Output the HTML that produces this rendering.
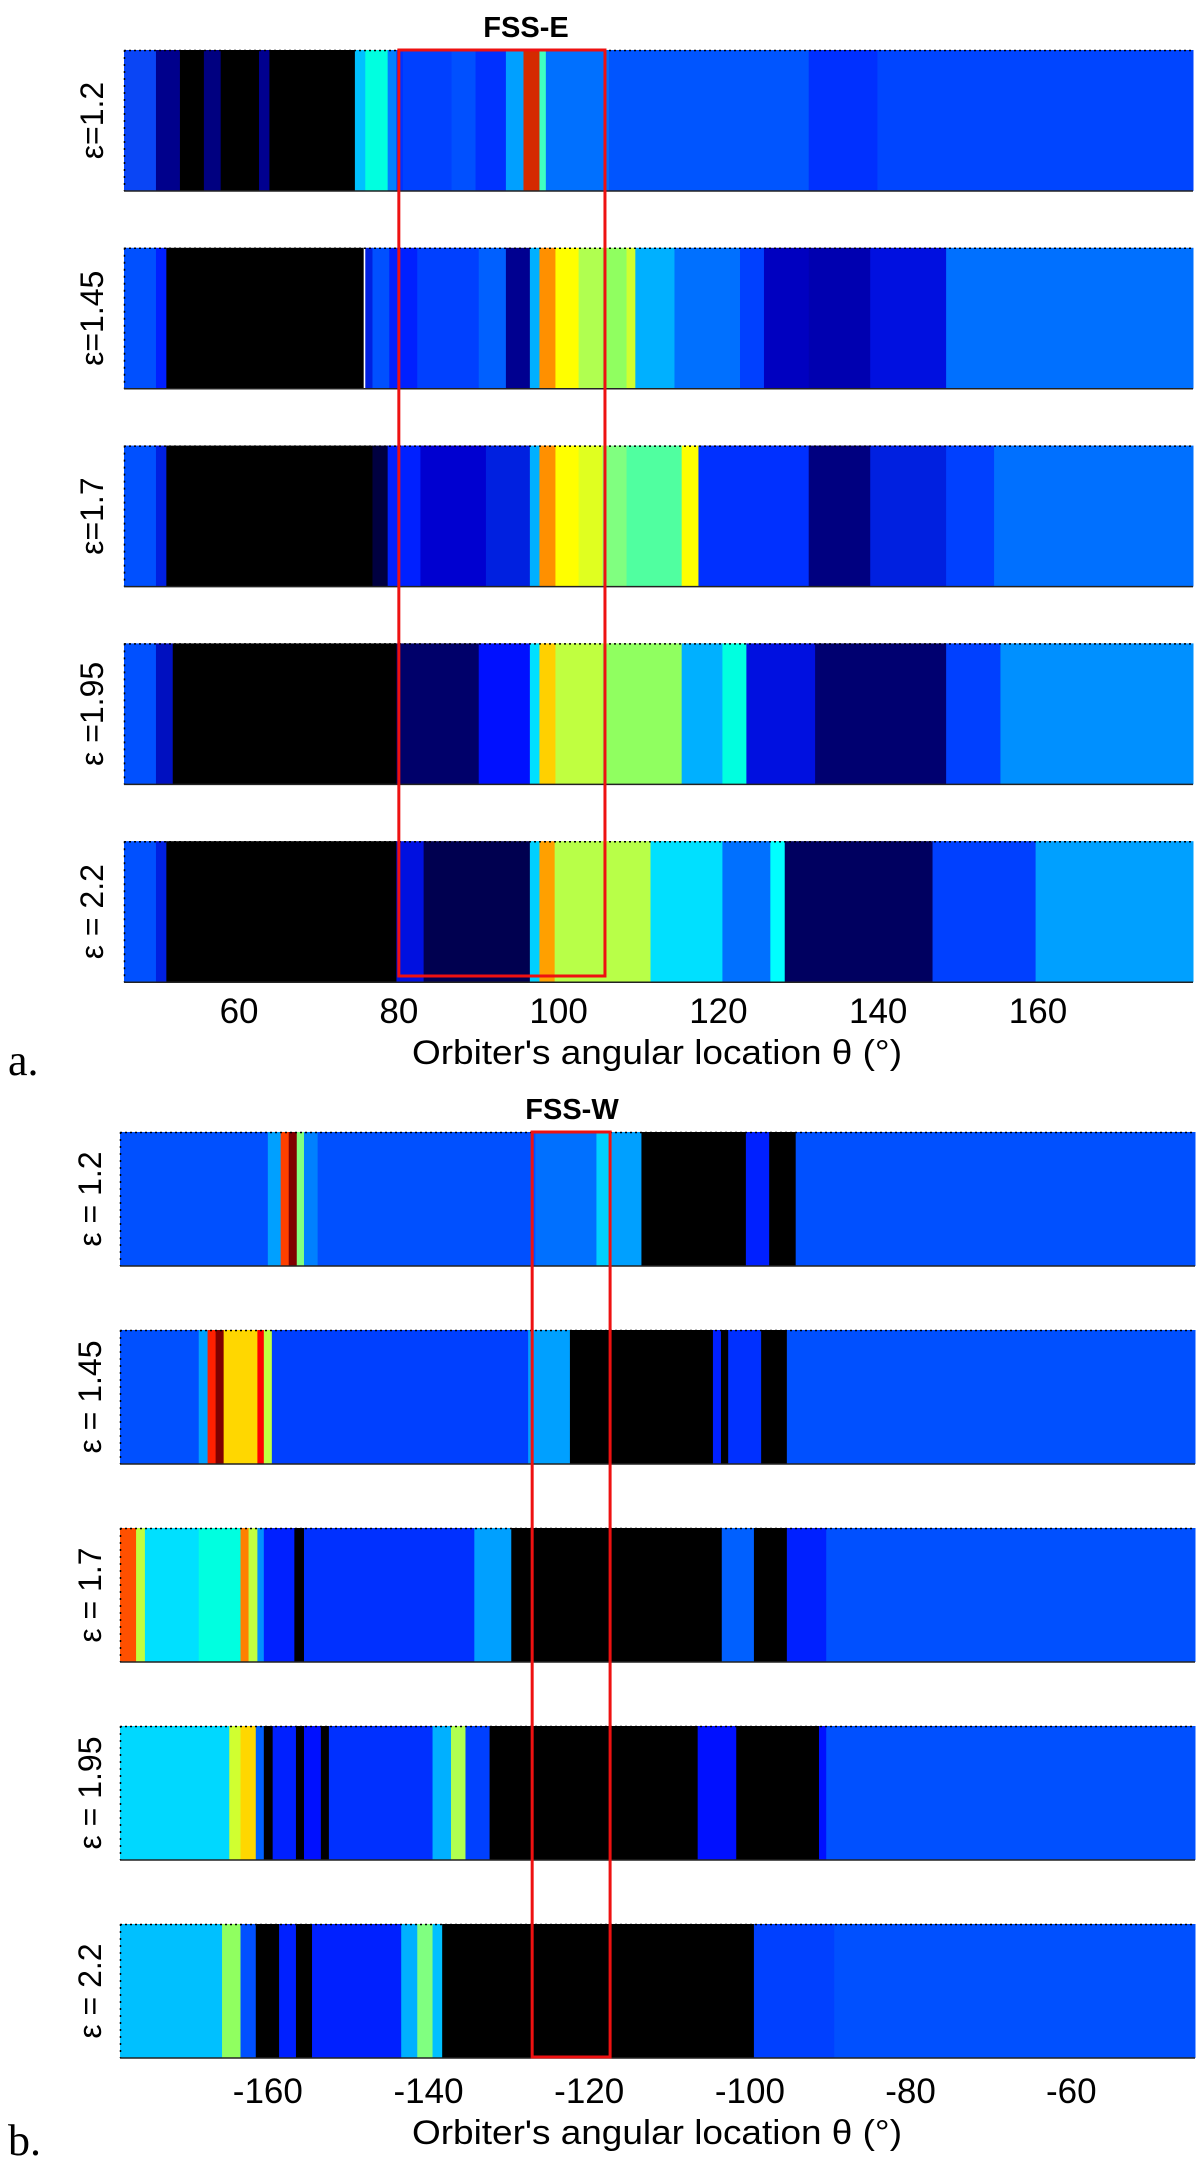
<!DOCTYPE html>
<html><head><meta charset="utf-8"><style>
html,body{margin:0;padding:0;background:#fff;}
svg{display:block;}
text{font-family:"Liberation Sans",sans-serif;}
</style></head><body>
<svg id="fig" width="1200" height="2160" viewBox="0 0 1200 2160"></svg>
<script>
// Panel a (FSS-E) data: segments [startDeg, color] per epsilon row
const aLabels = ["ε=1.2","ε=1.45","ε=1.7","ε =1.95","ε = 2.2"];
const aTicks = [60,80,100,120,140,160];
const aRow1 = [[45.3,"#0a45f5"],[49.6,"#00008c"],[52.6,"#000"],[55.6,"#000080"],[57.7,"#000"],[62.5,"#00008f"],[63.8,"#000"],[74.5,"#00c0ff"],[75.8,"#00ffe0"],[78.6,"#0080ff"],[79.7,"#0030ff"],[80.5,"#0040ff"],[86.6,"#0050ff"],[89.6,"#0030ff"],[93.4,"#00a0ff"],[95.6,"#d42a00"],[97.6,"#40ffc0"],[98.4,"#0070ff"],[106.3,"#0055ff"],[131.3,"#0030ff"],[139.9,"#0045ff"]];
const aRow2 = [[45.3,"#0050ff"],[49.6,"#0020ff"],[50.9,"#000"],[75.6,"#fff"],[75.8,"#0020e0"],[76.7,"#0050ff"],[78.8,"#0020ff"],[82.3,"#0040ff"],[90.0,"#0060ff"],[93.4,"#000090"],[96.4,"#00b0ff"],[97.6,"#ff9000"],[99.6,"#ffff00"],[102.5,"#b0ff50"],[105.5,"#90ff60"],[108.5,"#d0ff30"],[109.6,"#00b0ff"],[114.5,"#0070ff"],[122.7,"#0040ff"],[125.7,"#0000c0"],[131.3,"#0000b0"],[139.0,"#0010e0"],[148.5,"#0070ff"]];
const aRow3 = [[45.3,"#0050ff"],[49.6,"#0020e0"],[50.9,"#000"],[76.7,"#000040"],[78.6,"#0020ff"],[82.7,"#0000d0"],[90.9,"#0020e0"],[96.4,"#00b0ff"],[97.6,"#ff9000"],[99.6,"#ffff00"],[102.5,"#e0ff20"],[105.5,"#80ff80"],[108.5,"#50ffa0"],[115.4,"#ffff00"],[117.5,"#0030ff"],[131.3,"#000080"],[139.0,"#0020e0"],[148.5,"#0040ff"],[154.5,"#0070ff"]];
const aRow4 = [[45.3,"#0050ff"],[49.6,"#0010c0"],[51.7,"#000"],[79.7,"#00006a"],[90.0,"#0010ff"],[96.4,"#00e0ff"],[97.6,"#ffd000"],[99.6,"#c0ff40"],[105.5,"#90ff60"],[115.4,"#00b0ff"],[120.5,"#00ffe0"],[123.5,"#0010e0"],[132.1,"#000070"],[148.5,"#0040ff"],[155.3,"#0090ff"]];
const aRow5 = [[45.3,"#0050ff"],[49.6,"#0020e0"],[50.9,"#000"],[79.7,"#0010e0"],[83.1,"#000050"],[96.4,"#00d0ff"],[97.6,"#ffa000"],[99.5,"#b8ff48"],[111.5,"#00e0ff"],[120.5,"#0070ff"],[126.5,"#00ffff"],[128.3,"#000060"],[146.8,"#0040ff"],[159.7,"#00a0ff"]];
const aDomain = [45.6,179.4];
const aBox = [80,105.8];
// Panel b (FSS-W)
const bLabels = ["ε = 1.2","ε = 1.45","ε = 1.7","ε = 1.95","ε = 2.2"];
const bTicks = [-160,-140,-120,-100,-80,-60];
const bRow1 = [[-178.4,"#0050ff"],[-160.0,"#00a0ff"],[-158.4,"#ff4000"],[-157.4,"#800000"],[-156.4,"#80ff80"],[-155.5,"#0080ff"],[-153.8,"#0050ff"],[-126.7,"#0070ff"],[-119.1,"#00d0ff"],[-117.2,"#00a0ff"],[-113.5,"#000"],[-100.5,"#0020ff"],[-97.6,"#000"],[-94.3,"#0050ff"]];
const bRow2 = [[-178.4,"#0050ff"],[-168.6,"#00a0ff"],[-167.5,"#ff2000"],[-166.5,"#800000"],[-165.5,"#ffd700"],[-161.3,"#ff0000"],[-160.5,"#c0ff40"],[-159.5,"#0040ff"],[-127.6,"#00a0ff"],[-122.4,"#000"],[-104.6,"#0020ff"],[-103.6,"#000"],[-102.7,"#0030ff"],[-98.6,"#000"],[-95.4,"#0050ff"]];
const bRow3 = [[-178.4,"#ff5000"],[-176.4,"#c0ff40"],[-175.3,"#00e0ff"],[-168.6,"#00ffe0"],[-163.4,"#ff8000"],[-162.4,"#c0ff40"],[-161.3,"#0090ff"],[-160.5,"#0020ff"],[-156.7,"#000"],[-155.5,"#0030ff"],[-134.3,"#00a0ff"],[-129.7,"#000"],[-103.5,"#0060ff"],[-99.5,"#000"],[-95.4,"#0020ff"],[-90.5,"#0050ff"]];
const bRow4 = [[-178.4,"#00d8ff"],[-164.8,"#d0ff30"],[-163.4,"#ffd700"],[-161.5,"#0060ff"],[-160.5,"#000"],[-159.4,"#0020ff"],[-156.5,"#000"],[-155.5,"#0010ff"],[-153.4,"#000"],[-152.4,"#0030ff"],[-139.5,"#00b0ff"],[-137.2,"#b0ff50"],[-135.4,"#0040ff"],[-132.4,"#000"],[-106.5,"#0010ff"],[-101.7,"#000"],[-91.4,"#0010ff"],[-90.5,"#0050ff"]];
const bRow5 = [[-178.4,"#00c0ff"],[-165.7,"#90ff60"],[-163.4,"#0050ff"],[-161.5,"#000"],[-158.6,"#0020ff"],[-156.5,"#000"],[-154.5,"#0020ff"],[-143.4,"#00b0ff"],[-141.4,"#80ff80"],[-139.5,"#00c0ff"],[-138.3,"#000"],[-99.5,"#0040ff"],[-89.5,"#0050ff"]];
const bDomain = [-178.4,-44.6];
const bBox = [-127.1,-117.4];

const NS="http://www.w3.org/2000/svg";
const svg=document.getElementById('fig');
function mk(tag,attrs,parent){const e=document.createElementNS(NS,tag);for(const k in attrs)e.setAttribute(k,attrs[k]);(parent||svg).appendChild(e);return e;}

function panel(cfg){
  const g=mk('g',{});
  
  
  const sx=d=>cfg.x0+(d-cfg.domain[0])/(cfg.domain[1]-cfg.domain[0])*(cfg.x1-cfg.x0);
  cfg.rows.forEach((row,i)=>{
    const y=cfg.top+i*cfg.step;
    const rg=mk('g',{},g);
    
    
    row.forEach((seg,j)=>{
      const s=Math.max(seg[0],cfg.domain[0]);
      const e=j<row.length-1?row[j+1][0]:cfg.domain[1];
      const r=mk('rect',{x:sx(s),y:y,width:Math.max(0.5,sx(e)-sx(s)+0.5),height:cfg.h,fill:seg[1]},rg);
      
      
    });
    mk('line',{x1:cfg.x0,x2:cfg.x1,y1:y+0.5,y2:y+0.5,stroke:'#000','stroke-width':1.5,'stroke-dasharray':'2,3'},rg);
    mk('line',{x1:cfg.x0+0.5,x2:cfg.x0+0.5,y1:y,y2:y+cfg.h,stroke:'#000','stroke-width':1.5,'stroke-dasharray':'2,5'},rg);
    mk('line',{x1:cfg.x0,x2:cfg.x1,y1:y+cfg.h,y2:y+cfg.h,stroke:'#222','stroke-width':1.5},rg);
    const cy=y+cfg.h/2;
    const t=mk('text',{x:0,y:0,'font-size':32,'text-anchor':'middle','dominant-baseline':'central',transform:`translate(${cfg.labelX},${cy}) rotate(-90)`},g);
    t.textContent=cfg.labels[i];
    
    
  });
  const box=mk('rect',{x:sx(cfg.box[0]),y:cfg.top,width:sx(cfg.box[1])-sx(cfg.box[0]),height:cfg.boxBottom-cfg.top,fill:'none',stroke:'#ee1111','stroke-width':3},g);
  
  
  cfg.ticks.forEach(v=>{
    const t=mk('text',{x:sx(v),y:cfg.tickY,'font-size':35,'text-anchor':'middle'},g);
    t.textContent=v;
    
    
  });
  const at=mk('text',{x:cfg.axisX,y:cfg.axisY,'font-size':34,'text-anchor':'middle',textLength:490,lengthAdjust:'spacingAndGlyphs'},g);
  at.textContent="Orbiter's angular location θ (°)";
  
  
  const tt=mk('text',{x:cfg.titleX,y:cfg.titleY,'font-size':29,'font-weight':'bold','text-anchor':'middle'},g);
  tt.textContent=cfg.title;
  
  
  const pl=mk('text',{x:8,y:cfg.letterY,'font-size':44},g);
  pl.setAttribute('style','font-family:"Liberation Serif",serif');
  pl.textContent=cfg.letter;
  
  
}
panel({name:'panel-a-fss-e',rows:[aRow1,aRow2,aRow3,aRow4,aRow5],labels:aLabels,ticks:aTicks,domain:aDomain,box:aBox,
  x0:124,x1:1193,top:50,step:197.8,h:141,boxBottom:976,labelX:92,tickY:1023,axisX:657,axisY:1064,title:'FSS-E',titleX:526,titleY:37,letter:'a.',letterY:1075});
panel({name:'panel-b-fss-w',rows:[bRow1,bRow2,bRow3,bRow4,bRow5],labels:bLabels,ticks:bTicks,domain:bDomain,box:bBox,
  x0:120,x1:1195,top:1132,step:198,h:134,boxBottom:2057,labelX:90,tickY:2103,axisX:657,axisY:2144,title:'FSS-W',titleX:572,titleY:1119,letter:'b.',letterY:2155});
</script>
</body></html>
